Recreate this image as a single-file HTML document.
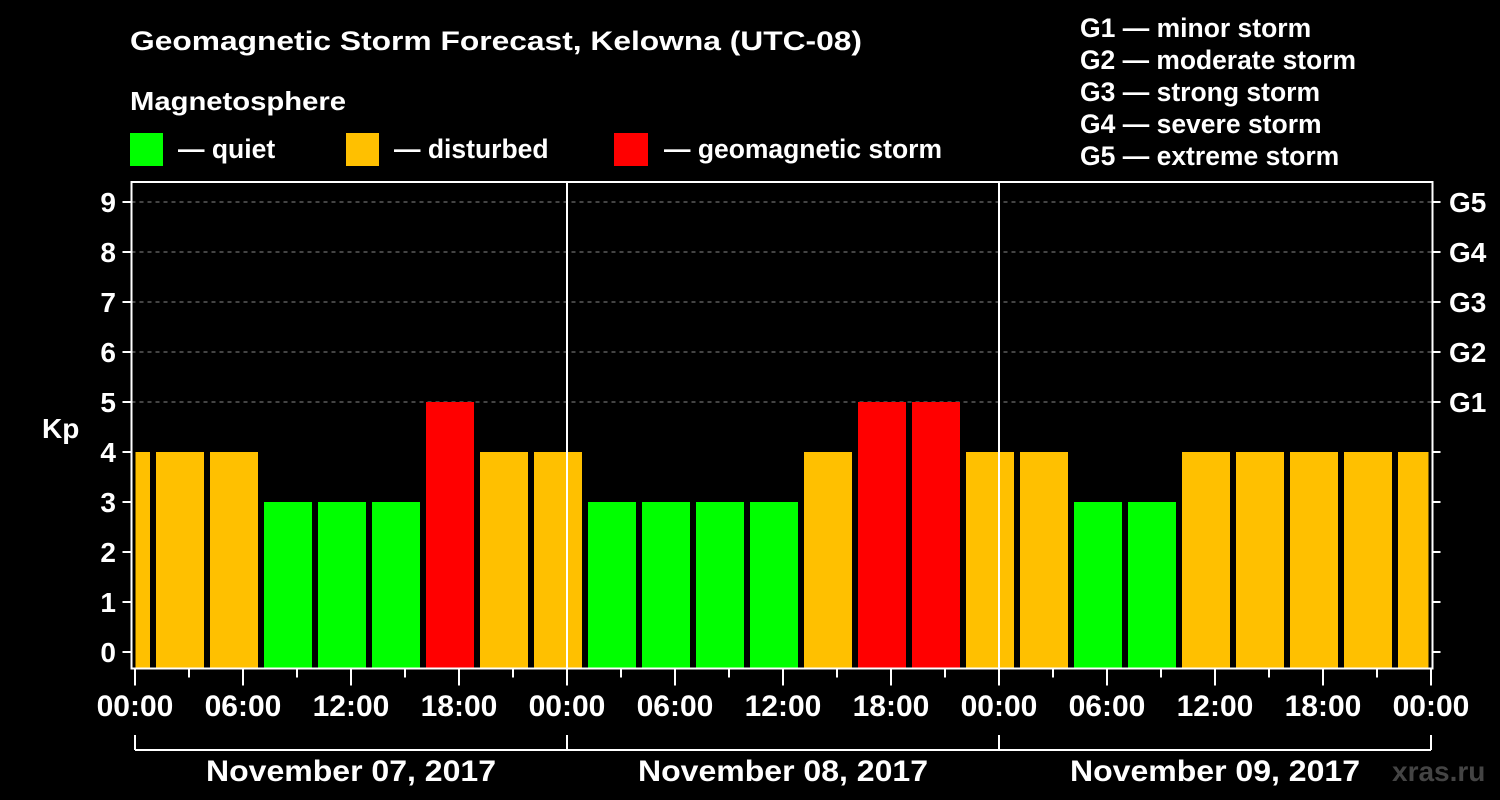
<!DOCTYPE html>
<html><head><meta charset="utf-8"><style>
html,body{margin:0;padding:0;background:#000;}
svg{display:block;font-family:"Liberation Sans",sans-serif;font-weight:bold;}
</style></head><body>
<svg id="chart" width="1500" height="800" viewBox="0 0 1500 800">
<rect width="1500" height="800" fill="#000"/>
<text x="130" y="50" font-size="27" fill="#fff" textLength="732" lengthAdjust="spacingAndGlyphs">Geomagnetic Storm Forecast, Kelowna (UTC-08)</text>
<text x="130" y="110" font-size="26" fill="#fff" textLength="216" lengthAdjust="spacingAndGlyphs">Magnetosphere</text>
<g><rect x="130" y="133" width="33" height="33" fill="#00ff00"/><text x="178" y="158" font-size="26.5" fill="#fff">— quiet</text></g>
<g><rect x="346" y="133" width="33" height="33" fill="#ffc000"/><text x="394" y="158" font-size="26.5" fill="#fff">— disturbed</text></g>
<g><rect x="614" y="133" width="34" height="33" fill="#ff0000"/><text x="664" y="158" font-size="26.5" fill="#fff" textLength="278" lengthAdjust="spacingAndGlyphs">— geomagnetic storm</text></g>
<g font-size="26.5" fill="#fff">
<text x="1080" y="37">G1 — minor storm</text>
<text x="1080" y="69" textLength="276" lengthAdjust="spacingAndGlyphs">G2 — moderate storm</text>
<text x="1080" y="101">G3 — strong storm</text>
<text x="1080" y="133">G4 — severe storm</text>
<text x="1080" y="165">G5 — extreme storm</text>
</g>
<g id="grid"></g><g id="bars"></g><g id="axes"></g>
<text x="1392" y="781" font-size="28" fill="#444">xras.ru</text>
</svg>
<script>
const kpValues=[4,4,4,3,3,3,5,4,4,3,3,3,3,4,5,5,4,4,3,3,4,4,4,4,4];
const yTicks=[0,1,2,3,4,5,6,7,8,9];
const gLabels=["G1","G2","G3","G4","G5"];
const hourLabels=["00:00","06:00","12:00","18:00","00:00","06:00","12:00","18:00","00:00","06:00","12:00","18:00","00:00"];
const dayLabels=["November 07, 2017","November 08, 2017","November 09, 2017"];
const NS="http://www.w3.org/2000/svg";
const L=131.5,R=1432.5,T=182,B=668.5,X0=135,HPX=18;
const y=v=>652-50*v;
const xh=h=>X0+h*HPX;
function mk(tag,attrs,parent,txt){const e=document.createElementNS(NS,tag);for(const k in attrs)e.setAttribute(k,attrs[k]);if(txt!==undefined)e.textContent=txt;parent.appendChild(e);return e;}
const grid=document.getElementById('grid'),bars=document.getElementById('bars'),axes=document.getElementById('axes');
yTicks.forEach(v=>{if(v>=5){const g=mk('line',{x1:L,x2:R,y1:y(v),y2:y(v),stroke:'#888','stroke-dasharray':'4,4','stroke-width':1},grid);

}});
kpValues.forEach((v,i)=>{const c=xh(-0.5+3*i);let x1=Math.max(c-24,L+4),x2=Math.min(c+24,R-4);
const col=v>=5?'#ff0000':(v>=4?'#ffc000':'#00ff00');
const r=mk('rect',{x:x1,y:y(v),width:x2-x1,height:B-1-y(v),fill:col},bars);

});
[24,48].forEach(h=>{const l=mk('line',{x1:xh(h),x2:xh(h),y1:T,y2:B,stroke:'#fff','stroke-width':2},axes);

});
const frame=mk('rect',{x:L,y:T,width:R-L,height:B-T,fill:'none',stroke:'#fff','stroke-width':2},axes);


yTicks.forEach(v=>{mk('line',{x1:L-9,x2:L,y1:y(v),y2:y(v),stroke:'#fff','stroke-width':2},axes);
mk('line',{x1:R,x2:R+8,y1:y(v),y2:y(v),stroke:'#fff','stroke-width':2},axes);
const t=mk('text',{x:116,y:y(v)+10,'font-size':28,fill:'#fff','text-anchor':'end'},axes,v);

});
gLabels.forEach((g,i)=>{const t=mk('text',{x:1449,y:y(5+i)+10,'font-size':28,fill:'#fff'},axes,g);

});
const kp=mk('text',{x:42,y:438,'font-size':28,fill:'#fff'},axes,'Kp');


for(let h=0;h<=72;h+=3){const major=h%6===0;mk('line',{x1:xh(h),x2:xh(h),y1:B,y2:B+(major?17:9),stroke:'#fff','stroke-width':2},axes);}
hourLabels.forEach((s,i)=>{const t=mk('text',{x:xh(6*i),y:716,'font-size':30,fill:'#fff','text-anchor':'middle'},axes,s);

});
mk('line',{x1:xh(0),x2:xh(72),y1:750,y2:750,stroke:'#fff','stroke-width':2},axes);
[0,24,48,72].forEach(h=>mk('line',{x1:xh(h),x2:xh(h),y1:735,y2:750,stroke:'#fff','stroke-width':2},axes));
dayLabels.forEach((s,i)=>{const t=mk('text',{x:xh(12+24*i),y:781,'font-size':30,fill:'#fff','text-anchor':'middle',textLength:290,lengthAdjust:'spacingAndGlyphs'},axes,s);

});
</script>
</body></html>
